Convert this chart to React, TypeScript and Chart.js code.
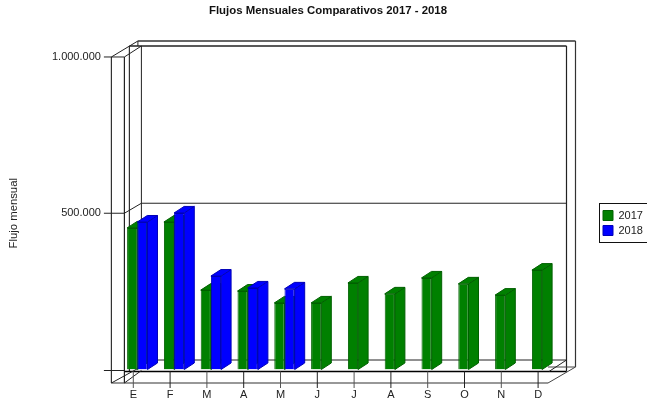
import React, { useEffect, useRef } from "react";
import { Chart, registerables } from "chart.js";

Chart.register(...registerables);

const categories = ["E", "F", "M", "A", "M", "J", "J", "A", "S", "O", "N", "D"];
const flujo2017 = [453000, 472000, 254000, 251000, 213000, 213000, 277000, 242000, 293000, 274000, 238000, 318000];
const flujo2018: (number | null)[] = [472000, 501000, 299000, 261000, 258000, null, null, null, null, null, null, null];
const series = ["2017", "2018"];
const seriesColors = ["#008000", "#0000ff"];
const seriesEdges = ["#006000", "#0000b8"];
const FONT = "'Liberation Sans', Arial, sans-serif";
const INK = "#222";
const depthX = 10;
const depthY = 6.5;
const tickShift = -4;

const framePlugin = {
  id: "frame3d",
  beforeDatasetsDraw(chart: any) {
    const { ctx, chartArea: a, scales } = chart;
    const y0 = scales.y.getPixelForValue(0);
    const yMax = scales.y.getPixelForValue(1000000);
    const yMid = scales.y.getPixelForValue(500000);
    const L = a.left;
    const R = a.right;
    // all frame offsets are relative to the plot area
    const seg = (x1: number, y1: number, x2: number, y2: number, w = 1, c = INK) => {
      ctx.beginPath();
      ctx.lineWidth = w;
      ctx.strokeStyle = c;
      ctx.moveTo(x1, y1);
      ctx.lineTo(x2, y2);
      ctx.stroke();
    };
    ctx.save();
    const xA = L - 7.5, xB = L + 5.5, xC = L + 10.5, xD = L + 19, xE = L + 22.5;
    const xR1 = R + 6, xR2 = R + 15, xF = R - 12.5;
    const top1 = yMax - 16, top2 = yMax - 11;
    const bot = y0 + 13.5, floorBack = y0 - 9.5, floorFront = y0 + 2;
    // verticals
    seg(xA, yMax, xA, bot, 1.2, "#333");
    seg(xB, yMax, xB, bot, 1.2);
    seg(xC, top2, xC, floorFront, 1.2, "#333");
    seg(xE, top2, xE, floorBack);
    seg(xD, top1, xD, top2);
    seg(xR1, top2, xR1, floorFront, 1.2);
    seg(xR2, top1, xR2, y0 - 2.5, 1.2, "#333");
    // horizontals
    seg(xD, top1, xR2, top1, 1.4, "#333");
    seg(xC, top2, xR1, top2, 1.5);
    seg(L - 15, yMax, xB, yMax);
    seg(xA, bot, xF, bot, 1.2, "#333");
    seg(L - 15, floorFront - 1, xB, floorFront - 1);
    seg(xB, floorFront, xR1, floorFront, 1.5, "#000");
    seg(xE, floorBack, xR1, floorBack);
    seg(xF, y0 - 2.5, xR2, y0 - 2.5, 1, "#444");
    seg(L - 15, yMid, xB, yMid);
    seg(xE, yMid - 10, xR1, yMid - 10);
    // slants
    seg(xA, yMax, xD, top1);
    seg(xB, yMax, xE, top2);
    seg(xB, yMid, xE, yMid - 10);
    seg(xA, bot, xE, y0 - 3);
    seg(xB, bot, xE, y0 + 1);
    seg(xF, bot, xR2, y0 - 2.5, 1, "#444");
    seg(xF + 1, floorFront, xR1, floorBack);
    // category ticks
    scales.x.ticks.forEach((_t: any, i: number) => {
      const x = scales.x.getPixelForTick(i) + tickShift;
      seg(x, y0 + 2, x, y0 + 18.5, 1, i % 2 ? "#222" : "#555");
    });
    // side and top faces of the bars, from the library's own bar elements
    chart.data.datasets.forEach((d: any, di: number) => {
      const meta = chart.getDatasetMeta(di);
      meta.data.forEach((bar: any, bi: number) => {
        if (d.data[bi] == null) return;
        const p = bar.getProps(["x", "y", "base", "width"], true);
        const l = p.x - p.width / 2;
        const r = p.x + p.width / 2;
        ctx.fillStyle = seriesColors[di];
        ctx.strokeStyle = seriesEdges[di];
        ctx.lineWidth = 1;
        ctx.beginPath();
        ctx.moveTo(r, p.y);
        ctx.lineTo(r + depthX, p.y - depthY);
        ctx.lineTo(r + depthX, p.base - depthY);
        ctx.lineTo(r, p.base);
        ctx.closePath();
        ctx.fill();
        ctx.stroke();
        ctx.beginPath();
        ctx.moveTo(l, p.y);
        ctx.lineTo(l + depthX, p.y - depthY);
        ctx.lineTo(r + depthX, p.y - depthY);
        ctx.lineTo(r, p.y);
        ctx.closePath();
        ctx.fill();
        ctx.stroke();
      });
    });
    ctx.restore();
  },
  afterLayout(chart: any) {
    const lg = chart.legend;
    if (lg) {
      const w = lg.width;
      lg.left = 599;
      lg.right = lg.left + w;
      lg.top = 206;
      lg.height = 60;
      lg.bottom = lg.top + lg.height;
      if (lg.adjustHitBoxes) lg.adjustHitBoxes();
    }
    // centre of the title sits over the drawing, not over the full page
    const t = chart.titleBlock;
    if (t) {
      t.left = 9;
      t.right = chart.width;
    }
  },
  afterDraw(chart: any) {
    const { ctx } = chart;
    ctx.save();
    ctx.strokeStyle = "#111";
    ctx.lineWidth = 1;
    ctx.strokeRect(599.5, 203.5, 60, 39);
    ctx.restore();
  },
};

export default function App() {
  const ref = useRef<HTMLCanvasElement | null>(null);
  useEffect(() => {
    document.body.style.margin = "0";
    const chart = new Chart(ref.current as HTMLCanvasElement, {
      type: "bar",
      data: {
        labels: categories,
        datasets: [
          { label: series[0], data: flujo2017, backgroundColor: seriesColors[0], borderColor: seriesEdges[0], borderWidth: 1 },
          { label: series[1], data: flujo2018, backgroundColor: seriesColors[1], borderColor: seriesEdges[1], borderWidth: 1 },
        ],
      },
      options: {
        responsive: false,
        animation: false,
        devicePixelRatio: 1,
        layout: { autoPadding: false, padding: { right: 86.5 } },
        datasets: { bar: { categoryPercentage: 0.554, barPercentage: 1 } },
        plugins: {
          tooltip: { enabled: false },
          title: {
            display: true,
            text: "Flujos Mensuales Comparativos 2017 - 2018",
            color: "#111",
            font: { family: FONT, size: 11.4, weight: "bold" },
            padding: { top: 4, bottom: 39.3 },
          },
          legend: {
            display: true,
            position: "chartArea",
            align: "start",
            labels: {
              boxWidth: 10,
              boxHeight: 10,
              padding: 4,
              color: "#222",
              font: { family: FONT, size: 11 },
            },
          },
        },
        scales: {
          x: {
            grid: { display: false, drawTicks: false },
            border: { display: false },
            afterFit(s: any) { s.height = 33.5; },
            ticks: {
              color: "#222",
              font: { family: FONT, size: 11 },
              padding: 19,
              labelOffset: tickShift,
              maxRotation: 0,
              autoSkip: false,
            },
          },
          y: {
            min: 0,
            max: 1000000,
            grid: { display: false, drawTicks: false },
            border: { display: false },
            afterFit(s: any) { s.width = 118.9; },
            title: {
              display: true,
              text: "Flujo mensual",
              color: "#222",
              font: { family: FONT, size: 11.3 },
              padding: { top: 7, bottom: 0 },
            },
            ticks: {
              stepSize: 500000,
              color: "#222",
              font: { family: FONT, size: 11 },
              padding: 18,
              callback: (v: any) => (v === 0 ? "" : Number(v).toLocaleString("de-DE")),
            },
          },
        },
      } as any,
      plugins: [framePlugin],
    });
    return () => chart.destroy();
  }, []);
  return (
    <div style={{ position: "relative", width: 647, height: 403, overflow: "hidden", background: "#fff" }}>
      <canvas ref={ref} width={647} height={403} style={{ display: "block" }} />
    </div>
  );
}
